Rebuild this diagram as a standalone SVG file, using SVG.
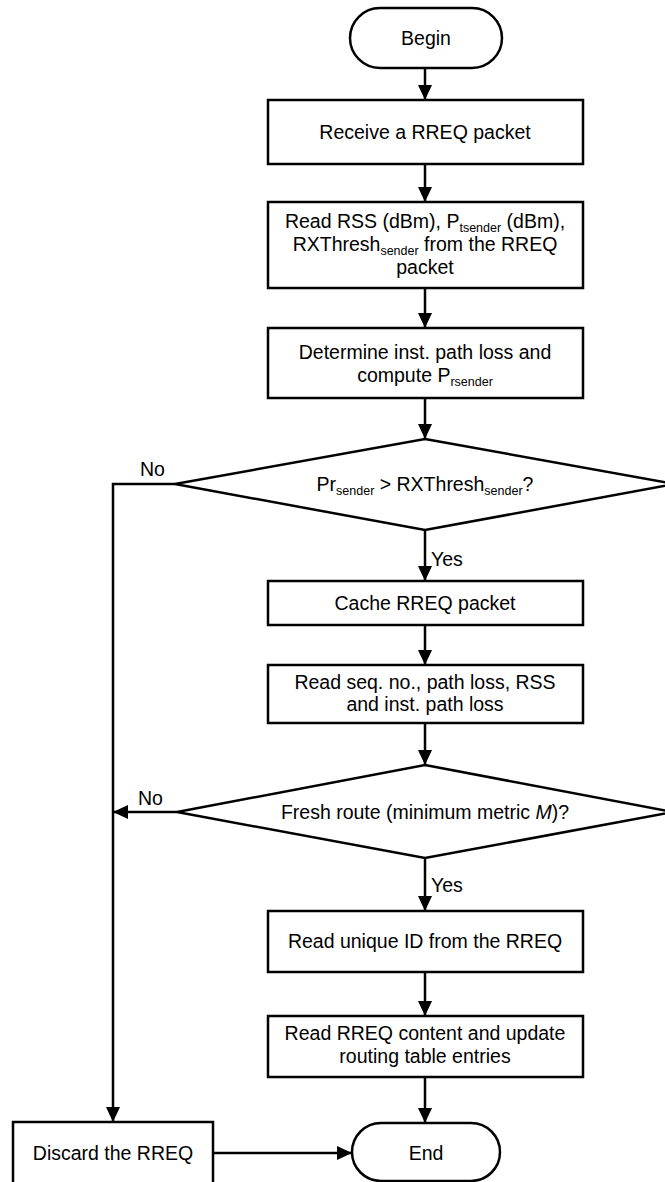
<svg xmlns="http://www.w3.org/2000/svg" width="665" height="1182" viewBox="0 0 665 1182">
  <style>
    .shape { fill: #ffffff; stroke: #000000; stroke-width: 2.5; }
    .line { fill: none; stroke: #000000; stroke-width: 2.5; }
    text { font-family: "Liberation Sans", Arial, sans-serif; font-size: 19.5px; fill: #000000; }
    .c { text-anchor: middle; }
    .sub { font-size: 12.5px; }
  </style>
  <defs>
    <marker id="arrow" viewBox="0 0 15 14" refX="15" refY="7" markerWidth="15" markerHeight="14" markerUnits="userSpaceOnUse" orient="auto">
      <path d="M0,0 L15,7 L0,14 Z" fill="#000000"/>
    </marker>
  </defs>

  <!-- connectors -->
  <g id="connectors">
    <line class="line" x1="425" y1="68" x2="425" y2="100" marker-end="url(#arrow)"/>
    <line class="line" x1="425" y1="164" x2="425" y2="202" marker-end="url(#arrow)"/>
    <line class="line" x1="425" y1="288" x2="425" y2="328" marker-end="url(#arrow)"/>
    <line class="line" x1="425" y1="398" x2="425" y2="439" marker-end="url(#arrow)"/>
    <line class="line" x1="425" y1="530" x2="425" y2="581" marker-end="url(#arrow)"/>
    <line class="line" x1="425" y1="625" x2="425" y2="665" marker-end="url(#arrow)"/>
    <line class="line" x1="425" y1="723" x2="425" y2="765" marker-end="url(#arrow)"/>
    <line class="line" x1="425" y1="858" x2="425" y2="911" marker-end="url(#arrow)"/>
    <line class="line" x1="425" y1="972" x2="425" y2="1016" marker-end="url(#arrow)"/>
    <line class="line" x1="425" y1="1077" x2="425" y2="1123" marker-end="url(#arrow)"/>
    <!-- "No" branch of the first decision -->
    <polyline class="line" points="175,484 113,484 113,1122" marker-end="url(#arrow)"/>
    <!-- "No" branch of the second decision -->
    <line class="line" x1="177" y1="812" x2="113" y2="812" marker-end="url(#arrow)"/>
    <!-- discard to end -->
    <line class="line" x1="213" y1="1153" x2="352" y2="1153" marker-end="url(#arrow)"/>
    <text x="140" y="476">No</text>
    <text x="138" y="805">No</text>
    <text x="431" y="566">Yes</text>
    <text x="431" y="892">Yes</text>
  </g>

  <g id="begin">
    <rect class="shape" x="350" y="8" width="152" height="60" rx="30" ry="30"/>
    <text class="c" x="426" y="45">Begin</text>
  </g>

  <g id="receive">
    <rect class="shape" x="268" y="100" width="315" height="64"/>
    <text class="c" x="425" y="139">Receive a RREQ packet</text>
  </g>

  <g id="read-rss">
    <rect class="shape" x="268" y="202" width="315" height="86"/>
    <text class="c" x="425" y="228">Read RSS (dBm), P<tspan class="sub" dy="4">tsender</tspan><tspan dy="-4"> (dBm),</tspan></text>
    <text class="c" x="425" y="251">RXThresh<tspan class="sub" dy="4">sender</tspan><tspan dy="-4"> from the RREQ</tspan></text>
    <text class="c" x="425" y="274">packet</text>
  </g>

  <g id="determine">
    <rect class="shape" x="268" y="328" width="315" height="70"/>
    <text class="c" x="425" y="359">Determine inst. path loss and</text>
    <text class="c" x="425" y="382">compute P<tspan class="sub" dy="4">rsender</tspan></text>
  </g>

  <g id="check-threshold">
    <polygon class="shape" points="425,439 675,484 425,530 175,484"/>
    <text class="c" x="425" y="491">Pr<tspan class="sub" dy="4">sender</tspan><tspan dy="-4"> &gt; RXThresh</tspan><tspan class="sub" dy="4">sender</tspan><tspan dy="-4">?</tspan></text>
  </g>

  <g id="cache">
    <rect class="shape" x="268" y="581" width="315" height="44"/>
    <text class="c" x="425" y="610">Cache RREQ packet</text>
  </g>

  <g id="read-seq">
    <rect class="shape" x="268" y="665" width="315" height="58"/>
    <text class="c" x="425" y="689">Read seq. no., path loss, RSS</text>
    <text class="c" x="425" y="711">and inst. path loss</text>
  </g>

  <g id="fresh-route">
    <polygon class="shape" points="425,765 673,812 425,858 177,812"/>
    <text class="c" x="425" y="819">Fresh route (minimum metric <tspan font-style="italic">M</tspan>)?</text>
  </g>

  <g id="read-id">
    <rect class="shape" x="268" y="911" width="315" height="61"/>
    <text class="c" x="425" y="948">Read unique ID from the RREQ</text>
  </g>

  <g id="update">
    <rect class="shape" x="268" y="1016" width="315" height="61"/>
    <text class="c" x="425" y="1040">Read RREQ content and update</text>
    <text class="c" x="425" y="1063">routing table entries</text>
  </g>

  <g id="discard">
    <rect class="shape" x="13" y="1122" width="200" height="64"/>
    <text class="c" x="113" y="1160">Discard the RREQ</text>
  </g>

  <g id="end">
    <rect class="shape" x="352" y="1123" width="148" height="58" rx="29" ry="29"/>
    <text class="c" x="426" y="1160">End</text>
  </g>
</svg>
